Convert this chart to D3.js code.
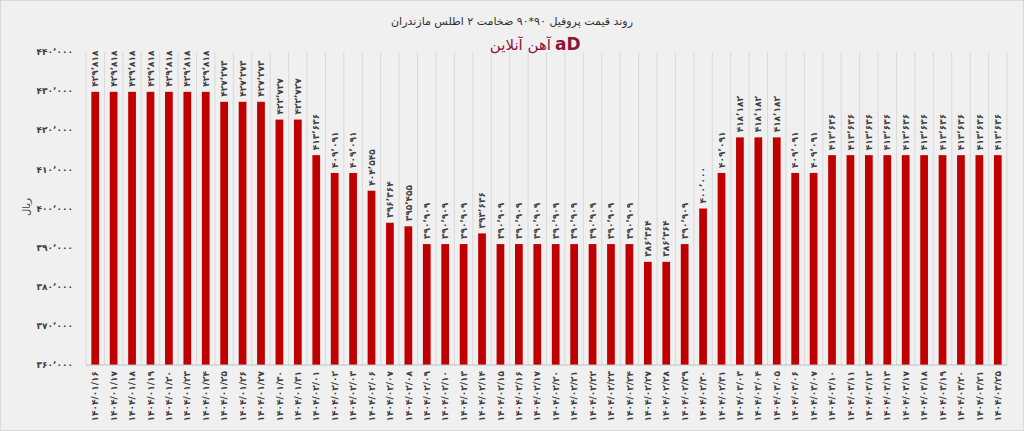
<!DOCTYPE html>
<html><head><meta charset="utf-8">
<script src="https://cdn.jsdelivr.net/npm/d3@7"></script>
<style>
body{margin:0;background:#fff;}
svg{display:block;font-family:"DejaVu Sans",sans-serif;}
</style></head>
<body><svg id="chart" width="1024" height="431"></svg>
<script>
var dates = ["01/16","01/17","01/18","01/19","01/20","01/23","01/24","01/25","01/26","01/27","01/30","01/31",
  "02/01","02/02","02/03","02/06","02/07","02/08","02/09","02/10","02/13","02/14","02/15","02/16","02/17",
  "02/20","02/21","02/22","02/23","02/24","02/27","02/28","02/29","02/30","02/31",
  "03/03","03/04","03/05","03/06","03/07","03/10","03/11","03/12","03/13","03/17","03/18","03/19","03/20","03/21","03/25"];
var prices = [429818,429818,429818,429818,429818,429818,429818,427273,427273,427273,422727,422727,
  413636,409091,409091,404545,396364,395455,390909,390909,390909,393636,390909,390909,390909,
  390909,390909,390909,390909,390909,386364,386364,390909,400000,409091,
  418182,418182,418182,409091,409091,413636,413636,413636,413636,413636,413636,413636,413636,413636,413636];
var yTicks = [360000,370000,380000,390000,400000,410000,420000,430000,440000];

var fa = "۰۱۲۳۴۵۶۷۸۹";
function toFa(s) { return String(s).replace(/[0-9]/g, function(c){ return fa[+c]; }); }
function fmt(v) { return toFa(d3.format(",")(v)).replace(/,/g, "٬"); }

var svg = d3.select("#chart");
svg.append("rect").attr("x",0.5).attr("y",0.5).attr("width",1023).attr("height",430)
  .attr("fill","#f0f0f0").attr("stroke","#d9d9d9");

var plotLeft = 86, plotRight = 1007, plotTop = 52, plotBottom = 365;
var x = d3.scaleBand().domain(dates).range([plotLeft, plotRight]).paddingInner(0.58).paddingOuter(0.29);
var y = d3.scaleLinear().domain([360000, 440000]).range([plotBottom, plotTop]);

// vertical grid between bars
var colW = (plotRight - plotLeft) / dates.length;
svg.append("g").selectAll("line").data(d3.range(dates.length + 1)).join("line")
  .attr("x1", function(i){ return plotLeft + i * colW; })
  .attr("x2", function(i){ return plotLeft + i * colW; })
  .attr("y1", plotTop).attr("y2", plotBottom).attr("stroke","#d9d9d9").attr("stroke-width",1);

svg.append("g").selectAll("rect").data(dates).join("rect")
  .attr("x", function(d){ return x(d); }).attr("width", x.bandwidth())
  .attr("y", function(d,i){ return y(prices[i]); })
  .attr("height", function(d,i){ return plotBottom - y(prices[i]); })
  .attr("fill","#c00000");

svg.append("line").attr("x1",plotLeft).attr("x2",plotRight).attr("y1",plotBottom).attr("y2",plotBottom)
  .attr("stroke","#bfbfbf");

// y tick labels
svg.append("g").selectAll("text").data(yTicks).join("text")
  .attr("x", 73).attr("y", function(d){ return y(d); }).attr("dy","0.35em")
  .attr("text-anchor","end").attr("font-size",9).attr("font-weight","bold").attr("fill","#404040")
  .text(fmt);

// value labels
svg.append("g").selectAll("text").data(dates).join("text")
  .attr("transform", function(d,i){ return "translate(" + (x(d) + x.bandwidth()/2) + "," + (y(prices[i]) - 5) + ") rotate(-90)"; })
  .attr("dy","0.35em").attr("font-size",9).attr("font-weight","bold").attr("fill","#404040")
  .text(function(d,i){ return fmt(prices[i]); });

// x labels
svg.append("g").selectAll("text").data(dates).join("text")
  .attr("transform", function(d){ return "translate(" + (x(d) + x.bandwidth()/2) + "," + (plotBottom + 6) + ") rotate(-90)"; })
  .attr("dy","0.35em").attr("text-anchor","end").attr("font-size",9).attr("font-weight","bold").attr("fill","#404040")
  .text(function(d){ return toFa("1404/" + d); });

svg.append("text").attr("transform","translate(30,207) rotate(-90)").attr("text-anchor","middle")
  .attr("font-size",10).attr("fill","#404040").text("ریال");

svg.append("text").attr("x",512).attr("y",25).attr("text-anchor","middle")
  .attr("font-size",11).attr("fill","#303030").text("روند قیمت پروفیل ۹۰*۹۰ ضخامت ۲ اطلس مازندران");

svg.append("text").attr("x",551).attr("y",50).attr("text-anchor","end")
  .attr("font-size",15).attr("fill","#8b1538").text("آهن آنلاین");
svg.append("text").attr("x",555).attr("y",50)
  .attr("font-size",17).attr("font-weight","bold").attr("fill","#8b1538").text("aD");
</script></body></html>
